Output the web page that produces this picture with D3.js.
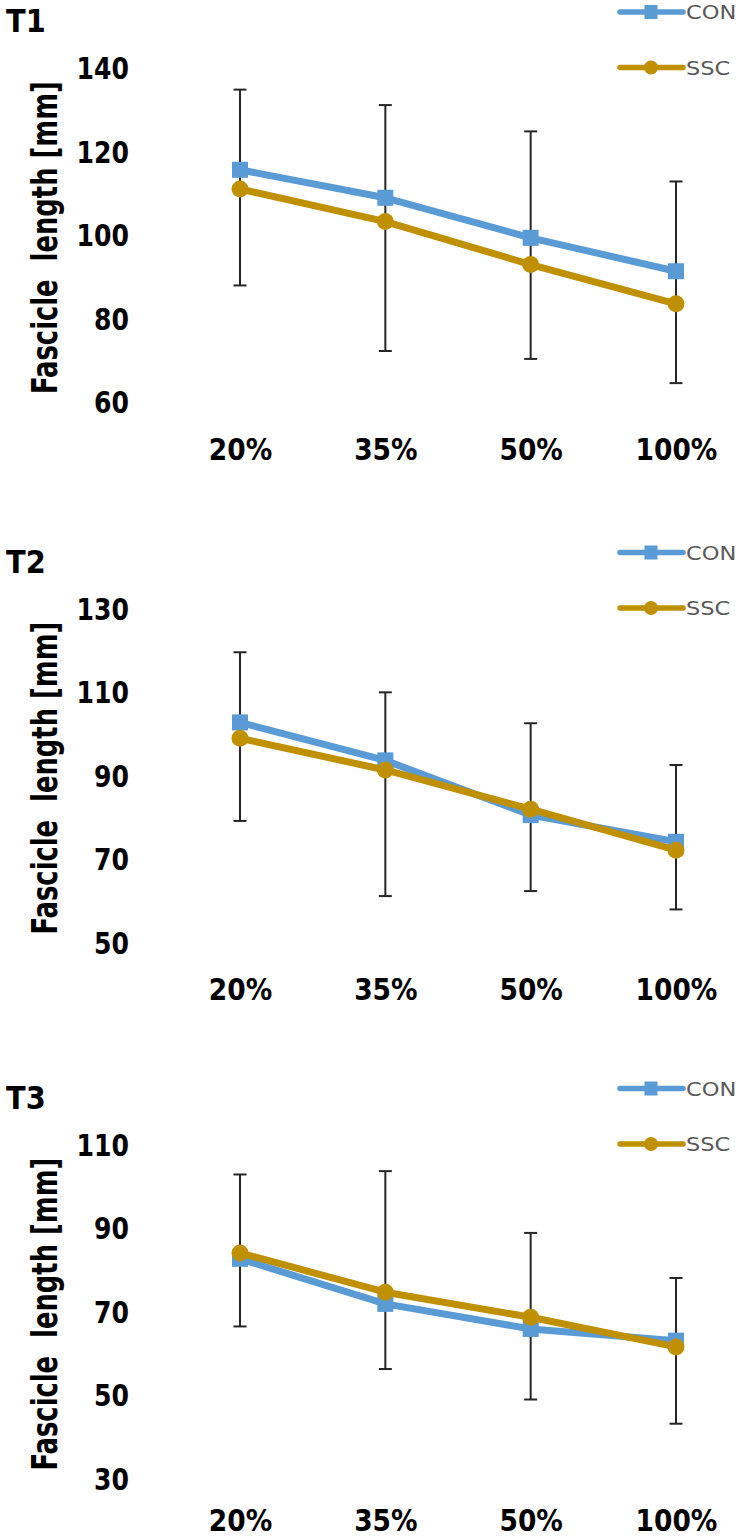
<!DOCTYPE html>
<html>
<head>
<meta charset="utf-8">
<script src="https://cdn.jsdelivr.net/npm/d3@7"></script>
<style>
  html, body { margin: 0; padding: 0; background: #fff; }
  svg { display: block; }
  .cf { font-family: "Liberation Sans Narrow", "DejaVu Sans Condensed", "Liberation Sans", sans-serif; font-stretch: condensed; }
</style>
</head>
<body>
<svg id="chart" width="742" height="1539"></svg>
<script>
// ---- data ----
const categories = ["20%", "35%", "50%", "100%"];
const seriesNames = ["CON", "SSC"];

const panelTitles = ["T1", "T2", "T3"];

const ticksT1 = [60, 80, 100, 120, 140];
const conT1 = [115.5, 108.8, 99.2, 91.2];
const sscT1 = [110.9, 103.1, 92.8, 83.4];
const errHighT1 = [134.7, 131.0, 124.7, 112.7];
const errLowT1 = [87.8, 72.1, 70.2, 64.4];

const ticksT2 = [50, 70, 90, 110, 130];
const conT2 = [102.6, 93.5, 80.4, 74.0];
const sscT2 = [98.8, 91.2, 81.8, 72.0];
const errHighT2 = [119.4, 109.8, 102.4, 92.4];
const errLowT2 = [79.0, 61.0, 62.2, 57.8];

const ticksT3 = [30, 50, 70, 90, 110];
const conT3 = [82.5, 71.7, 65.7, 62.9];
const sscT3 = [83.9, 74.5, 68.5, 61.4];
const errHighT3 = [102.7, 103.5, 88.7, 77.9];
const errLowT3 = [66.3, 56.1, 48.8, 43.0];

const yTitle = "Fascicle  length [mm]";

// ---- layout / style ----
const panels = [
  { title: panelTitles[0], ticks: ticksT1, con: conT1, ssc: sscT1, hi: errHighT1, lo: errLowT1, top: 67.5 },
  { title: panelTitles[1], ticks: ticksT2, con: conT2, ssc: sscT2, hi: errHighT2, lo: errLowT2, top: 608 },
  { title: panelTitles[2], ticks: ticksT3, con: conT3, ssc: sscT3, hi: errHighT3, lo: errLowT3, top: 1144 }
];
const colors = { CON: "#5B9BD5", SSC: "#BF9000" };
const plotH = 334;

const svg = d3.select("#chart");
const x = d3.scalePoint().domain(categories).range([240, 676]);

panels.forEach(p => {
  const g = svg.append("g");
  const y = d3.scaleLinear().domain(d3.extent(p.ticks)).range([p.top + plotH, p.top]);

  // panel title
  g.append("text").attr("class", "cf")
    .attr("x", 6).attr("y", p.top - 47).attr("dy", "0.36em")
    .attr("font-size", 32).attr("font-weight", "bold").attr("fill", "#000")
    .text(p.title);

  // y axis labels
  const ya = g.append("g").attr("transform", "translate(129,0)")
    .call(d3.axisLeft(y).tickValues(p.ticks).tickSize(0).tickPadding(0).tickFormat(d3.format("d")));
  ya.select(".domain").remove();
  ya.selectAll("text").attr("class", "cf").attr("font-size", 31).attr("font-weight", "bold")
    .attr("fill", "#000").attr("x", 0).attr("dy", "0.36em").attr("transform", "scale(0.9,1)");

  // x axis labels
  const xLabelY = Math.min(p.top + plotH + 47, 1520);
  const xa = g.append("g").attr("transform", `translate(0,${xLabelY})`)
    .call(d3.axisBottom(x).tickSize(0).tickPadding(0));
  xa.select(".domain").remove();
  xa.selectAll("text").attr("class", "cf").attr("font-size", 31).attr("font-weight", "bold")
    .attr("fill", "#000").attr("y", 0).attr("dy", "0.36em").attr("transform", "scale(0.95,1)");

  // y title
  g.append("text").attr("class", "cf")
    .attr("transform", `translate(57,${p.top + 170}) rotate(-90) scale(0.82,1)`)
    .attr("text-anchor", "middle").attr("font-size", 35).attr("font-weight", "bold")
    .attr("fill", "#000").style("white-space", "pre").text(yTitle);

  // error bars
  const eb = g.append("g").attr("stroke", "#262626").attr("stroke-width", 2);
  categories.forEach((c, i) => {
    eb.append("line").attr("x1", x(c)).attr("x2", x(c)).attr("y1", y(p.hi[i])).attr("y2", y(p.lo[i]));
    eb.append("line").attr("x1", x(c) - 6.5).attr("x2", x(c) + 6.5).attr("y1", y(p.hi[i])).attr("y2", y(p.hi[i]));
    eb.append("line").attr("x1", x(c) - 6.5).attr("x2", x(c) + 6.5).attr("y1", y(p.lo[i])).attr("y2", y(p.lo[i]));
  });

  const line = d3.line().x((d, i) => x(categories[i])).y(d => y(d));

  // CON
  g.append("path").datum(p.con).attr("d", line).attr("fill", "none")
    .attr("stroke", colors.CON).attr("stroke-width", 7).attr("stroke-linejoin", "round");
  g.selectAll(null).data(p.con).enter().append("rect")
    .attr("x", (d, i) => x(categories[i]) - 8).attr("y", d => y(d) - 8)
    .attr("width", 16).attr("height", 16).attr("fill", colors.CON);

  // SSC
  g.append("path").datum(p.ssc).attr("d", line).attr("fill", "none")
    .attr("stroke", colors.SSC).attr("stroke-width", 7).attr("stroke-linejoin", "round");
  g.selectAll(null).data(p.ssc).enter().append("circle")
    .attr("cx", (d, i) => x(categories[i])).attr("cy", d => y(d)).attr("r", 8.5)
    .attr("fill", colors.SSC);

  // legend
  const legY = [p.top - 55.5, p.top];
  seriesNames.forEach((s, k) => {
    const lg = g.append("g").attr("transform", `translate(0,${legY[k]})`);
    lg.append("line").attr("x1", 620).attr("x2", 683).attr("y1", 0).attr("y2", 0)
      .attr("stroke", colors[s]).attr("stroke-width", 5.5).attr("stroke-linecap", "round");
    if (s === "CON") {
      lg.append("rect").attr("x", 651 - 6.5).attr("y", -7).attr("width", 13).attr("height", 14).attr("fill", colors[s]);
    } else {
      lg.append("circle").attr("cx", 651).attr("cy", 0).attr("r", 7).attr("fill", colors[s]);
    }
    lg.append("text").attr("class", "cf")
      .attr("transform", "translate(686,0) scale(1.25,1)")
      .attr("dy", "0.36em").attr("font-size", 20).attr("fill", "#595959").text(s);
  });
});
</script>
</body>
</html>
